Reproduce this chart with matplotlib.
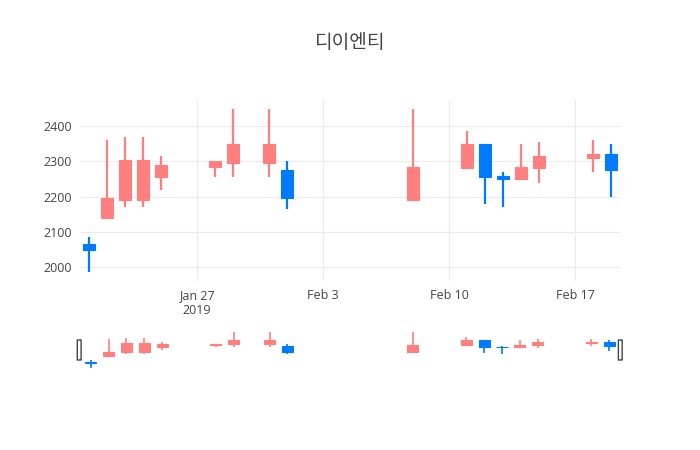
import matplotlib
matplotlib.use("Agg")
import matplotlib.pyplot as plt
import matplotlib.dates as mdates
from matplotlib.patches import FancyBboxPatch
import numpy as np
import datetime as dt

plt.rcParams['font.family'] = ['Open Sans', 'Noto Sans CJK KR', 'DejaVu Sans']

title = "디이엔티"
dates = ["2019-01-21", "2019-01-22", "2019-01-23", "2019-01-24", "2019-01-25",
         "2019-01-28", "2019-01-29", "2019-01-31", "2019-02-01", "2019-02-08",
         "2019-02-11", "2019-02-12", "2019-02-13", "2019-02-14", "2019-02-15",
         "2019-02-18", "2019-02-19"]
opens  = [2065, 2140, 2190, 2190, 2255, 2285, 2295, 2295, 2275, 2190, 2280, 2350, 2260, 2250, 2280, 2310, 2320]
highs  = [2085, 2360, 2370, 2370, 2315, 2300, 2450, 2450, 2300, 2450, 2385, 2350, 2270, 2350, 2355, 2360, 2350]
lows   = [1985, 2140, 2170, 2170, 2220, 2255, 2255, 2255, 2165, 2190, 2280, 2180, 2170, 2250, 2240, 2270, 2200]
closes = [2050, 2195, 2305, 2305, 2290, 2300, 2350, 2350, 2195, 2285, 2350, 2255, 2250, 2285, 2315, 2320, 2275]
yticks = [2000, 2100, 2200, 2300, 2400]
xtick_dates = ["2019-01-27", "2019-02-03", "2019-02-10", "2019-02-17"]
xtick_labels = ["Jan 27\n2019", "Feb 3", "Feb 10", "Feb 17"]

INC = '#FF7F7F'
DEC = '#007BFF'

x = mdates.date2num([dt.datetime.strptime(d, "%Y-%m-%d") for d in dates])
o = np.array(opens); h = np.array(highs); l = np.array(lows); c = np.array(closes)
cols = [INC if cc >= oo else DEC for oo, cc in zip(o, c)]

lo, hi = l.min(), h.max()
pad = 0.0525 * (hi - lo)
ylim = (lo - pad, hi + pad)
xlim = (x.min() - 0.5, x.max() + 0.5)

W, H = 700, 450
fig = plt.figure(figsize=(7, 4.5), dpi=100)
ax = fig.add_axes([80 / W, (H - 281) / H, 540 / W, 181 / H])
rs = fig.add_axes([80 / W, (H - 370) / H, 540 / W, 40 / H])


def draw(a, lw_wick, bw):
    bottoms = np.minimum(o, c)
    heights = np.maximum(np.abs(c - o), 1.5)
    a.vlines(x, l, h, colors=cols, linewidth=lw_wick, zorder=3)
    a.bar(x, heights, bottom=bottoms, width=bw, color=cols, edgecolor=cols,
          linewidth=0.8, zorder=4)


draw(ax, 1.6, 0.62)
ax.set_xlim(*xlim)
ax.set_ylim(*ylim)
ax.set_yticks(yticks)
ax.set_yticklabels([str(v) for v in yticks])
ax.set_xticks(mdates.date2num([dt.datetime.strptime(d, "%Y-%m-%d") for d in xtick_dates]))
ax.set_xticklabels(xtick_labels)
ax.grid(True, color='#EBEBEB', linewidth=0.8, zorder=0)
ax.set_axisbelow(True)
for s in ax.spines.values():
    s.set_visible(False)
ax.tick_params(axis='both', length=0, labelsize=9, colors='#444444', pad=6)
ax.tick_params(axis='y', pad=6)
for lab in ax.get_xticklabels():
    lab.set_linespacing(1.15)

draw(rs, 1.2, 0.62)
rs.set_xlim(xlim[0] - 0.1, xlim[1] + 0.1)
rs.set_ylim(*ylim)
rs.set_xticks([]); rs.set_yticks([])
for s in rs.spines.values():
    s.set_visible(False)
for hx in (-0.002, 1.0):
    rs.add_patch(FancyBboxPatch((hx - 0.003, 0.25), 0.007, 0.5,
                                boxstyle="round,pad=0,rounding_size=0.003",
                                transform=rs.transAxes, facecolor='white',
                                edgecolor='#444444', linewidth=1.0,
                                clip_on=False, zorder=6))

fig.text(350 / W, 1 - 43 / H, title, ha='center', va='center', fontsize=13.8,
         color='#444444', family=['Noto Sans CJK KR', 'DejaVu Sans'])

fig.savefig("out.png", dpi=100, facecolor='white')
